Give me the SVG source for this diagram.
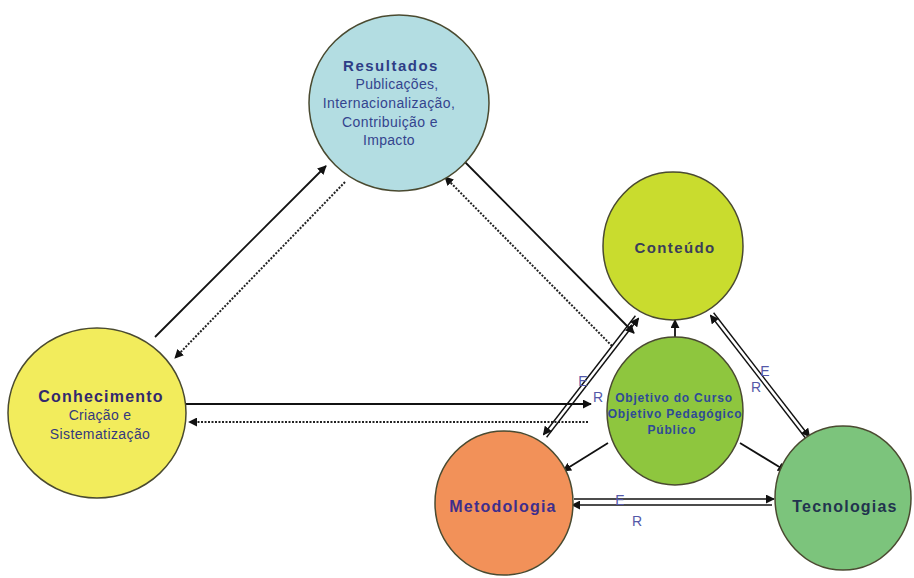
<svg xmlns="http://www.w3.org/2000/svg" width="914" height="578" viewBox="0 0 914 578">
<defs>
<marker id="ah" viewBox="0 0 10 10" refX="9" refY="5" markerWidth="9" markerHeight="9" markerUnits="userSpaceOnUse" orient="auto">
<path d="M0,0 L10,5 L0,10 z" fill="#111"/>
</marker>
</defs>
<style>
.node{stroke:#4a4a30;stroke-width:1.5}
.t{font-family:"Liberation Sans",Arial,sans-serif;font-weight:bold;text-anchor:middle}
.s{font-family:"Liberation Sans",Arial,sans-serif;text-anchor:middle}
.c{fill:none;stroke:#111;stroke-width:1.8;marker-end:url(#ah)}
.c2{fill:none;stroke:#111;stroke-width:1.4;marker-end:url(#ah)}
.d{fill:none;stroke:#222;stroke-width:2;stroke-dasharray:2 1.5;marker-end:url(#ah)}
.l{font-family:"Liberation Sans",Arial,sans-serif;font-size:14px;fill:#5458a8;text-anchor:middle}
</style>
<rect width="914" height="578" fill="#fff"/>
<g id="connectors">
<line class="c" x1="155" y1="337" x2="326" y2="166"/>
<line class="d" x1="345" y1="182" x2="175" y2="358"/>
<line class="c" x1="460" y1="157" x2="634" y2="333"/>
<line class="d" x1="612" y1="346" x2="445" y2="177"/>
<line class="c" x1="186" y1="404" x2="591" y2="404"/>
<line class="d" x1="588" y1="422" x2="189" y2="422"/>
<line class="c2" x1="546.6" y1="437.2" x2="638.6" y2="318.2"/>
<line class="c2" x1="635.4" y1="315.8" x2="543.4" y2="434.8"/>
<line class="c2" x1="713.6" y1="312.8" x2="809.6" y2="436.8"/>
<line class="c2" x1="806.4" y1="439.2" x2="710.4" y2="315.2"/>
<line class="c2" x1="574" y1="499" x2="774" y2="499"/>
<line class="c2" x1="772" y1="505" x2="572" y2="505"/>
<line class="c" x1="675" y1="337" x2="675" y2="320"/>
<line class="c" x1="608" y1="443" x2="563" y2="471"/>
<line class="c" x1="740" y1="443" x2="786" y2="471"/>
<text class="l" x="583" y="386">E</text>
<text class="l" x="598" y="402">R</text>
<text class="l" x="765" y="376">E</text>
<text class="l" x="756" y="392">R</text>
<text class="l" x="620" y="505">E</text>
<text class="l" x="637" y="526">R</text>
</g>
<g id="resultados">
<ellipse class="node" cx="399" cy="103" rx="90" ry="88" fill="#b3dde2"/>
<text class="t" x="391" y="71" font-size="15" letter-spacing="1.5" fill="#2e3d86">Resultados</text>
<text class="s" x="397" y="89" font-size="14" letter-spacing="0.3" fill="#34448e">Publicações,</text>
<text class="s" x="389" y="108" font-size="14" letter-spacing="0.4" fill="#34448e">Internacionalização,</text>
<text class="s" x="390" y="127" font-size="14" letter-spacing="0.4" fill="#34448e">Contribuição e</text>
<text class="s" x="389" y="145" font-size="14" letter-spacing="0.3" fill="#34448e">Impacto</text>
</g>
<g id="conhecimento">
<ellipse class="node" cx="97" cy="413" rx="89" ry="85" fill="#f2ec5c"/>
<text class="t" x="101" y="402" font-size="16" letter-spacing="1.2" fill="#33286e">Conhecimento</text>
<text class="s" x="100" y="420" font-size="14" letter-spacing="0.3" fill="#34387e">Criação e</text>
<text class="s" x="100" y="439" font-size="14" letter-spacing="0.4" fill="#34387e">Sistematização</text>
</g>
<g id="conteudo">
<ellipse class="node" cx="673" cy="246" rx="70" ry="74" fill="#c9dc2e"/>
<text class="t" x="675" y="253" font-size="15" letter-spacing="1.4" fill="#3a3d5a">Conteúdo</text>
</g>
<g id="objetivo">
<ellipse class="node" cx="675" cy="411" rx="68" ry="74" fill="#8ec63e"/>
<text class="t" x="674" y="402" font-size="12" letter-spacing="0.8" fill="#2e4a96">Objetivo do Curso</text>
<text class="t" x="675" y="418" font-size="12" letter-spacing="0.8" fill="#2e4a96">Objetivo Pedagógico</text>
<text class="t" x="672" y="434" font-size="12" letter-spacing="0.8" fill="#2e4a96">Público</text>
</g>
<g id="metodologia">
<ellipse class="node" cx="504" cy="503" rx="69" ry="72" fill="#f29159"/>
<text class="t" x="503" y="512" font-size="16" letter-spacing="1.2" fill="#3e2e8c">Metodologia</text>
</g>
<g id="tecnologias">
<ellipse class="node" cx="843" cy="498" rx="68" ry="72" fill="#7cc47c"/>
<text class="t" x="845" y="512" font-size="16" letter-spacing="1.2" fill="#22344e">Tecnologias</text>
</g>
</svg>
